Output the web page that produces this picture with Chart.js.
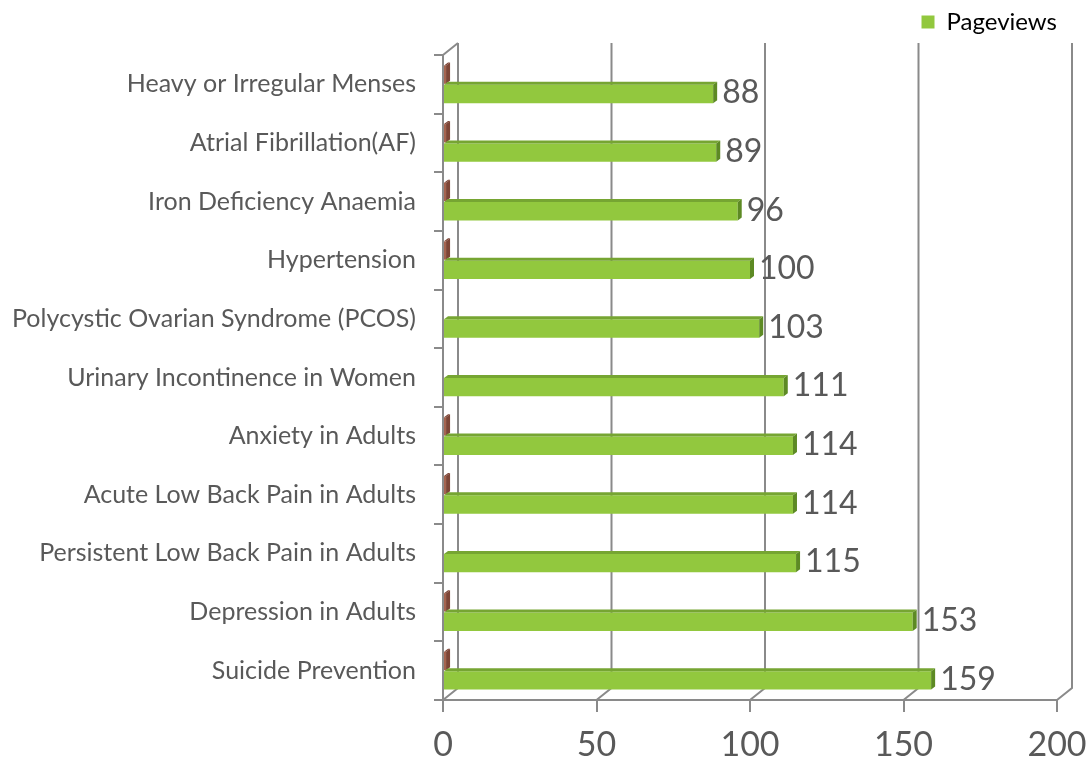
<!DOCTYPE html>
<html>
<head>
<meta charset="utf-8">
<script src="https://cdn.jsdelivr.net/npm/chart.js@4"></script>
<style>
    html, body { margin: 0; padding: 0; background: #ffffff; }
    #wrap { width: 1089px; height: 767px; position: relative; }
</style>
</head>
<body>
<div id="wrap"><canvas id="chart"></canvas></div>
<script>
// ---- data ----
const categories = [
    'Heavy or Irregular Menses',
    'Atrial Fibrillation(AF)',
    'Iron Deficiency Anaemia',
    'Hypertension',
    'Polycystic Ovarian Syndrome (PCOS)',
    'Urinary Incontinence in Women',
    'Anxiety in Adults',
    'Acute Low Back Pain in Adults',
    'Persistent Low Back Pain in Adults',
    'Depression in Adults',
    'Suicide Prevention'
];
const pageviews  = [88, 89, 96, 100, 103, 111, 114, 114, 115, 153, 159];
const otherSeries = [1, 1, 1, 1, 0, 0, 1, 1, 0, 1, 1];
const xTicks = [0, 50, 100, 150, 200];

const GRID  = '#8a8a8a';
const TEXT  = '#595959';
const GREEN = '#92c83e';
const GREEN_TOP  = '#76a532';
const GREEN_SIDE = '#5d8a24';
const BROWN = '#a5644f';
const BROWN_SIDE = '#7d4536';
const DEPTH_X = 15, DEPTH_Y = 12;

// back wall + floor lines (fake 3D)
const backWall = {
    id: 'backWall',
    beforeDatasetsDraw(chart) {
        const { ctx, chartArea: a, scales: { x } } = chart;
        ctx.save();
        ctx.strokeStyle = GRID;
        ctx.lineWidth = 2;
        xTicks.forEach(v => {
            const fx = x.getPixelForValue(v);
            const bx = fx + DEPTH_X;
            ctx.beginPath();
            ctx.moveTo(bx, a.top - DEPTH_Y);
            ctx.lineTo(bx, a.bottom - DEPTH_Y);
            ctx.lineTo(fx, a.bottom);
            ctx.stroke();
        });
        // top edge of the side wall
        const x0 = x.getPixelForValue(0);
        ctx.beginPath();
        ctx.moveTo(x0, a.top);
        ctx.lineTo(x0 + DEPTH_X, a.top - DEPTH_Y);
        ctx.stroke();
        ctx.restore();
    }
};

function drawFaces(ctx, bar, top, side) {
    const t = bar.y - bar.height / 2;
    const b = bar.y + bar.height / 2;
    const d = 4, dy = 3;
    ctx.fillStyle = top;
    ctx.beginPath();
    ctx.moveTo(bar.base, t);
    ctx.lineTo(bar.x, t);
    ctx.lineTo(bar.x + d, t - dy);
    ctx.lineTo(bar.base + d, t - dy);
    ctx.closePath();
    ctx.fill();
    ctx.fillStyle = side;
    ctx.beginPath();
    ctx.moveTo(bar.x, t);
    ctx.lineTo(bar.x + d, t - dy);
    ctx.lineTo(bar.x + d, b - dy);
    ctx.lineTo(bar.x, b);
    ctx.closePath();
    ctx.fill();
    return d;
}

// bar faces + value labels
const barFaces = {
    id: 'barFaces',
    afterDatasetsDraw(chart) {
        const { ctx } = chart;
        ctx.save();
        chart.getDatasetMeta(0).data.forEach((bar, i) => {
            if (otherSeries[i] > 0) drawFaces(ctx, bar, BROWN_SIDE, BROWN_SIDE);
        });
        chart.getDatasetMeta(1).data.forEach((bar, i) => {
            const d = drawFaces(ctx, bar, GREEN_TOP, GREEN_SIDE);
            ctx.fillStyle = TEXT;
            ctx.font = '32px Lato';
            ctx.textBaseline = 'middle';
            ctx.textAlign = 'left';
            ctx.fillText(String(pageviews[i]), bar.x + d + 5, bar.y - 1);
        });
        ctx.restore();
    }
};

// fixed legend band height
const legendBand = {
    id: 'legendBand',
    beforeInit(chart) {
        const fit = chart.legend.fit;
        chart.legend.fit = function () {
            fit.bind(chart.legend)();
            this.height = 55;
        };
    }
};

new Chart(document.getElementById('chart'), {
    type: 'bar',
    data: {
        labels: categories,
        datasets: [
            {
                label: 'Series 2',
                data: otherSeries,
                backgroundColor: BROWN,
                categoryPercentage: 0.66,
                barPercentage: 0.95,
            },
            {
                label: 'Pageviews',
                data: pageviews,
                backgroundColor: GREEN,
                categoryPercentage: 0.66,
                barPercentage: 0.95,
            }
        ]
    },
    plugins: [backWall, barFaces, legendBand],
    options: {
        indexAxis: 'y',
        responsive: true,
        maintainAspectRatio: false,
        animation: false,
        layout: { padding: { left: 0, right: 22, top: 0, bottom: 0 } },
        scales: {
            x: {
                min: 0,
                max: 200,
                afterBuildTicks: s => { s.ticks = xTicks.map(v => ({ value: v })); },
                afterFit: s => { s.height = 67; s.paddingRight = 32; },
                grid: {
                    drawOnChartArea: false,
                    color: GRID,
                    lineWidth: 2,
                    tickLength: 12,
                },
                border: { color: GRID, width: 2 },
                ticks: {
                    color: TEXT,
                    font: { family: 'Lato', size: 34 },
                    padding: 13,
                    maxRotation: 0,
                }
            },
            y: {
                afterFit: s => { s.width = 443; },
                grid: {
                    drawOnChartArea: false,
                    offset: true,
                    color: GRID,
                    lineWidth: 2,
                    tickLength: 9,
                },
                border: { color: GRID, width: 2 },
                ticks: {
                    color: TEXT,
                    font: { family: 'Lato', size: 25 },
                    padding: 18,
                    autoSkip: false,
                }
            }
        },
        plugins: {
            legend: {
                position: 'top',
                align: 'end',
                labels: {
                    color: '#000000',
                    font: { family: 'Lato', size: 24 },
                    boxWidth: 13,
                    boxHeight: 13,
                    padding: 10,
                    filter: item => item.datasetIndex === 1,
                }
            },
            tooltip: { enabled: false }
        }
    }
});
</script>
</body>
</html>
